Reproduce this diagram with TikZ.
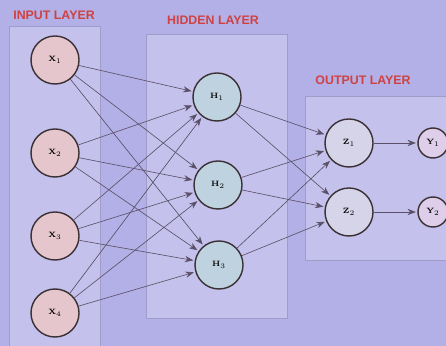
\documentclass[tikz,border=0pt]{standalone}
\usepackage{fontspec}
\setsansfont{Liberation Sans}
\usetikzlibrary{arrows.meta}
\definecolor{slide}{RGB}{178,176,230}
\definecolor{panel}{RGB}{196,194,236}
\definecolor{panelline}{RGB}{160,156,200}
\definecolor{titlered}{RGB}{208,66,66}
\definecolor{inpink}{RGB}{228,198,204}
\definecolor{hidblue}{RGB}{190,210,224}
\definecolor{outgrey}{RGB}{214,212,232}
\definecolor{ypink}{RGB}{222,206,234}
\definecolor{rim}{RGB}{58,48,52}
\definecolor{wire}{RGB}{92,80,104}
\tikzset{
  layerbox/.style={draw=panelline,fill=panel,line width=0.4pt},
  layertitle/.style={text=titlered,font=\sffamily\bfseries\fontsize{8.8}{9}\selectfont},
  neuron/.style={circle,draw=rim,line width=1pt,minimum size=1.2cm,inner sep=0pt,
    font=\fontsize{5.5}{6}\selectfont\bfseries},
  outneuron/.style={neuron,minimum size=0.75cm},
  link/.style={-{Stealth[length=6pt,width=4.5pt]},draw=wire,line width=0.45pt,shorten >=1pt}
}
\begin{document}
\begin{tikzpicture}[x=0.025cm,y=-0.025cm]
\fill[slide] (0,0) rectangle (446,346);
\useasboundingbox (0,0) rectangle (446,346);
% layer panels
\draw[layerbox] (9,26) rectangle (100,350);
\draw[layerbox] (146,34) rectangle (287,318);
\draw[layerbox] (305,96) rectangle (450,260);
\node[layertitle] (tin) at (54,15) {INPUT LAYER};
\node[layertitle] (thid) at (213,20) {HIDDEN LAYER};
\node[layertitle] (tout) at (363,80) {OUTPUT LAYER};
% input neurons
\node[neuron,fill=inpink] (x1) at (55,60) {X$_1$};
\node[neuron,fill=inpink] (x2) at (55,153) {X$_2$};
\node[neuron,fill=inpink] (x3) at (55,236) {X$_3$};
\node[neuron,fill=inpink] (x4) at (55,313) {X$_4$};
% hidden neurons
\node[neuron,fill=hidblue] (h1) at (217,97) {H$_1$};
\node[neuron,fill=hidblue] (h2) at (218,185) {H$_2$};
\node[neuron,fill=hidblue] (h3) at (219,265) {H$_3$};
% output neurons
\node[neuron,fill=outgrey] (z1) at (349,143) {Z$_1$};
\node[neuron,fill=outgrey] (z2) at (349,212) {Z$_2$};
\node[outneuron,fill=ypink] (y1) at (433,143) {Y$_1$};
\node[outneuron,fill=ypink] (y2) at (433,212) {Y$_2$};
% connections
\foreach \i in {1,...,4}
  \foreach \j in {1,2,3}
    \draw[link] (x\i) -- (h\j);
\foreach \j in {1,2,3}
  \foreach \k in {1,2}
    \draw[link] (h\j) -- (z\k);
\draw[link] (z1) -- (y1);
\draw[link] (z2) -- (y2);
\end{tikzpicture}
\end{document}
